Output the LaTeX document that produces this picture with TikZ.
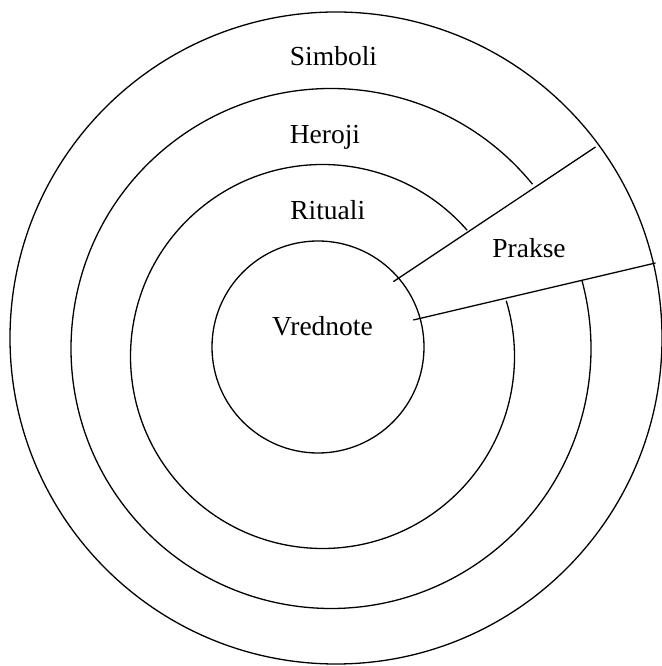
\documentclass[tikz,border=0pt]{standalone}
\usepackage{fontspec}
\setmainfont{Liberation Serif}
\usepackage{tikz}
\usetikzlibrary{calc,positioning}
\tikzset{
  ring/.style={
    draw,
    line width=1.3pt,
  },
  layerlabel/.style={
    anchor=base,
    inner sep=0pt,
    font=\fontsize{27.5}{30}\selectfont,
  },
}

\begin{document}
\begin{tikzpicture}[x=1pt,y=1pt]
  \useasboundingbox (0,0) rectangle (661,666);
  \coordinate (simc) at (336,328);
  \coordinate (herc) at (331,317.5);
  \coordinate (ritc) at (322.5,309.5);
  \coordinate (vrec) at (318,319);
  \coordinate (up0) at (393.3,384.3);
  \coordinate (up1) at (595.5,519);
  \coordinate (lo0) at (413.3,346);
  \coordinate (lo1) at (655.5,403);
  \draw[ring] (simc) circle[radius=326pt];
  \draw[ring] (herc) ++(39.2:260pt) arc[start angle=39.2, end angle=375.2, radius=260pt];
  \draw[ring] (ritc) ++(41.1:192pt) arc[start angle=41.1, end angle=376.9, radius=192pt];
  \draw[ring] (vrec) circle[radius=106pt];
  \draw[ring] (up0) -- (up1);
  \draw[ring] (lo0) -- (lo1);
  \node[layerlabel] (simboli) at (333.5,600) {Simboli};
  \node[layerlabel] (heroji) at (325,522.7) {Heroji};
  \node[layerlabel] (rituali) at (327.7,446) {Rituali};
  \node[layerlabel] (vrednote) at (322.5,330) {Vrednote};
  \node[layerlabel] (prakse) at (529,408.7) {Prakse};
\end{tikzpicture}
\end{document}
